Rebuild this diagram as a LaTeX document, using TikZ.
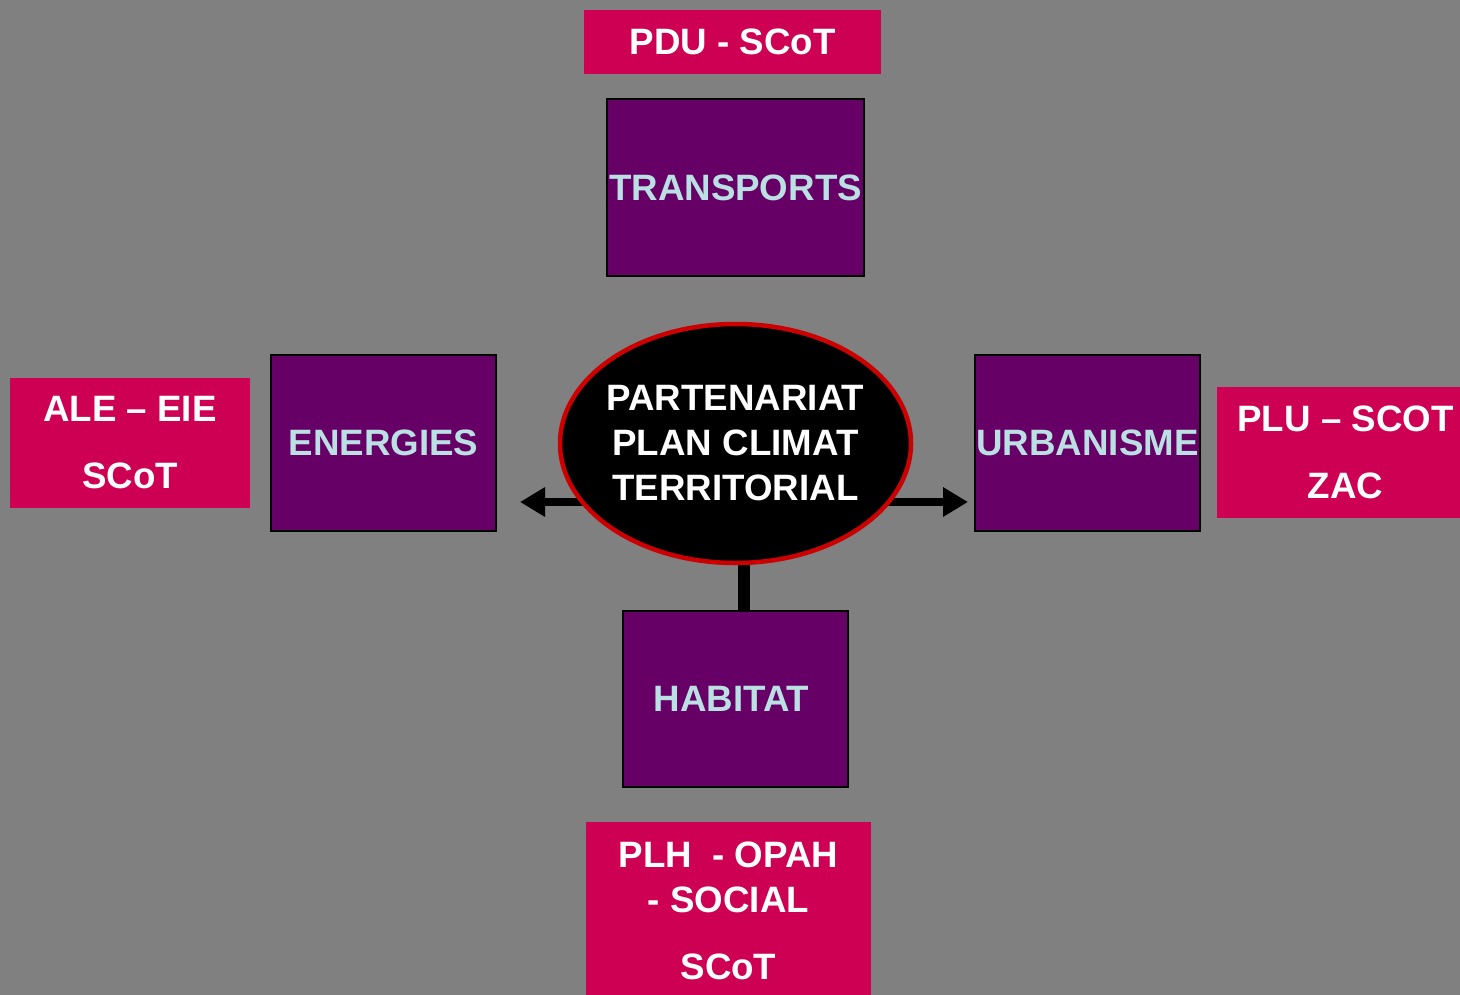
\documentclass[tikz,border=0pt]{standalone}
\usepackage{fontspec}
\setmainfont{Liberation Sans}
\usetikzlibrary{shapes.geometric,arrows.meta,backgrounds}
\definecolor{bggray}{RGB}{128,128,128}
\definecolor{pinkbox}{RGB}{206,0,84}
\definecolor{purplebox}{RGB}{102,0,102}
\definecolor{lightcyan}{RGB}{187,224,227}
\definecolor{redring}{RGB}{204,0,0}
\tikzset{
  big/.style={font=\fontsize{36.7}{45}\selectfont\bfseries},
  pbox/.style={big, draw=black, line width=2pt, fill=purplebox, text=lightcyan, inner sep=0pt, align=center},
  tagbox/.style={big, fill=pinkbox, text=white, inner sep=0pt, align=center},
  core/.style={big, ellipse, draw=redring, line width=4.5pt, fill=black, text=white, inner xsep=-12pt, inner ysep=0pt, align=center},
  link/.style={line width=8pt, -{Triangle[length=25pt,width=28pt]}},
  stem/.style={line width=12pt}
}
\begin{document}
\begin{tikzpicture}[x=1pt,y=-1pt]
\useasboundingbox (0,0) rectangle (1460,995);
\begin{pgfonlayer}{background}
\fill[bggray] (0,0) rectangle (1460,995);
\end{pgfonlayer}
% tag boxes
\node[tagbox, minimum width=297pt, minimum height=64pt] (pdu) at (732.5,42) {PDU - SCoT};
\node[tagbox, minimum width=240pt, minimum height=130pt] (ale) at (130,443) {ALE -- EIE\\[22pt]SCoT};
\node[tagbox, minimum width=257pt, minimum height=131pt] (plu) at (1345.5,452.5) {PLU -- SCOT\\[22pt]ZAC};
\node[tagbox, minimum width=285pt, minimum height=178pt] (plh) at (728.5,911) {PLH\ \ - OPAH\\- SOCIAL\\[22pt]SCoT};
% theme boxes
\node[pbox, minimum width=257pt, minimum height=177pt] (tra) at (735.5,187.5) {TRANSPORTS};
\node[pbox, minimum width=225pt, minimum height=176pt] (ene) at (383.5,443) {ENERGIES};
\node[pbox, minimum width=225pt, minimum height=176pt] (urb) at (1087.5,443) {URBANISME};
\node[pbox, minimum width=225pt, minimum height=176pt] (hab) at (735.5,699) {HABITAT\hspace*{8pt}};
% centre
\node[core, minimum width=351pt, minimum height=239pt] (pct) at (735.5,443.5) {PARTENARIAT\\PLAN CLIMAT\\TERRITORIAL};
% connectors
\coordinate (lt) at (520,502);
\coordinate (rt) at (968,502);
\coordinate (vt) at (744,500);
\begin{pgfonlayer}{background}
\draw[link] (pct.center |- lt) -- (lt);
\draw[link] (pct.center |- rt) -- (rt);
\draw[stem] (vt) -- (vt |- hab.north);
\end{pgfonlayer}
\end{tikzpicture}
\end{document}
